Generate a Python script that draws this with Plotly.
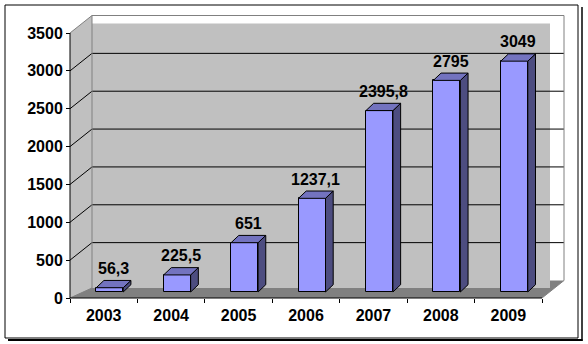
import plotly.graph_objects as go

# ---------------- data ----------------
years = ["2003", "2004", "2005", "2006", "2007", "2008", "2009"]
values = [56.3, 225.5, 651, 1237.1, 2395.8, 2795, 3049]
y_ticks = [0, 500, 1000, 1500, 2000, 2500, 3000, 3500]
labels = [f"{v:g}".replace(".", ",") for v in values]

# ---------------- geometry (pixels -> data units) ----------------
W, H = 588, 344
PXC = 472 / 7          # pixels per category on the front plane
PXV = 265 / 3500       # pixels per value unit on the front plane
X0_PX, Y0_PX = 70, 298 # front-plane origin in pixels
L, R, T, B = 60, 575, 8, 305  # plot-area box in pixels

xr = [(L - X0_PX) / PXC, (R - X0_PX) / PXC]
yr = [(Y0_PX - B) / PXV, (Y0_PX - T) / PXV]

NCAT = len(years)
VMAX = y_ticks[-1]

WDX, WDV = 22 / PXC, 17.5 / PXV        # wall depth offset
BAR_DX, BAR_DV = 6 / PXC, 6 / PXV      # bar front face depth position
BD_X, BD_V = 7.7 / PXC, 7.3 / PXV      # bar depth
BAR_W = 27 / PXC


def proj(x, v, d):
    return x + d * WDX, v + d * WDV


def path(pts):
    return "M " + " L ".join(f"{x},{y}" for x, y in pts) + " Z"


shapes = []

def poly(pts, fill, line_color=None, lw=0):
    shapes.append(dict(type="path", xref="x", yref="y", path=path(pts),
                       fillcolor=fill, line=dict(color=line_color or fill, width=lw),
                       layer="below"))

def seg(p, q, color, lw=1):
    shapes.append(dict(type="line", xref="x", yref="y", x0=p[0], y0=p[1], x1=q[0], y1=q[1],
                       line=dict(color=color, width=lw), layer="below"))

# floor
poly([proj(0, 0, 0), proj(NCAT, 0, 0), proj(NCAT, 0, 1), proj(0, 0, 1)], "#808080")
# back wall fill (slightly offset as in the original rendering)
bx0 = proj(0, 0, 1)[0]
bx1 = proj(NCAT, 0, 1)[0] - 14 / PXC
bvt = proj(0, VMAX, 1)[1] - 8 / PXV
bvb = proj(0, 0, 1)[1] - 7.5 / PXV
poly([(bx0, bvb), (bx1, bvb), (bx1, bvt), (bx0, bvt)], "#c0c0c0")
# left wall
poly([proj(0, 0, 0), proj(0, VMAX, 0), proj(0, VMAX, 1), (bx0, bvb)], "#c0c0c0")

# gridlines
for v in y_ticks[1:-1]:
    seg(proj(0, v, 0), proj(0, v, 1), "black")
    seg(proj(0, v, 1), proj(NCAT, v, 1), "black")

# wall outlines
gray = "#808080"
seg((bx0, bvb), proj(0, VMAX, 1), gray)
seg(proj(0, VMAX, 1), proj(NCAT, VMAX, 1), gray)
seg(proj(NCAT, VMAX, 1), proj(NCAT, 0, 1), gray)
seg(proj(0, VMAX, 0), proj(0, VMAX, 1), gray)
seg(proj(NCAT, 0, 0), proj(NCAT, 0, 1), gray)
seg(proj(0, 0, 0), (bx0, bvb), gray)

# axis lines
seg(proj(0, 0, 0), proj(0, VMAX, 0), "black")
seg(proj(0, 0, 0), proj(NCAT, 0, 0), "black")

# frame with shadow (paper coords)
def px_x(px):
    return (px - L) / (R - L)

def px_y(py):
    return (B - py) / (B - T)

shapes.append(dict(type="rect", xref="paper", yref="paper",
                   x0=px_x(5), x1=px_x(578), y0=px_y(338), y1=px_y(5),
                   line=dict(color="black", width=1), layer="above"))
shapes.append(dict(type="line", xref="paper", yref="paper",
                   x0=px_x(582), x1=px_x(582), y0=px_y(7), y1=px_y(341),
                   line=dict(color="black", width=1.5)))
shapes.append(dict(type="line", xref="paper", yref="paper",
                   x0=px_x(8), x1=px_x(582.5), y0=px_y(340), y1=px_y(340),
                   line=dict(color="black", width=2)))

# ---------------- bars ----------------
cx = [i + 0.5 + BAR_DX for i in range(NCAT)]
fig = go.Figure()
fig.add_trace(go.Bar(x=cx, y=values, base=BAR_DV, width=BAR_W,
                     marker=dict(color="#9999ff", line=dict(color="black", width=1)),
                     hoverinfo="skip", showlegend=False))

top_x, top_y, side_x, side_y = [], [], [], []
for c, v in zip(cx, values):
    x0, x1 = c - BAR_W / 2, c + BAR_W / 2
    b0, t0 = BAR_DV, BAR_DV + v
    top_x += [x0, x1, x1 + BD_X, x0 + BD_X, x0, None]
    top_y += [t0, t0, t0 + BD_V, t0 + BD_V, t0, None]
    side_x += [x1, x1 + BD_X, x1 + BD_X, x1, x1, None]
    side_y += [b0, b0 + BD_V, t0 + BD_V, t0, b0, None]

fig.add_trace(go.Scatter(x=side_x, y=side_y, mode="lines", fill="toself",
                         fillcolor="#4d4d80", line=dict(color="black", width=1),
                         hoverinfo="skip", showlegend=False))
fig.add_trace(go.Scatter(x=top_x, y=top_y, mode="lines", fill="toself",
                         fillcolor="#7373bf", line=dict(color="black", width=1),
                         hoverinfo="skip", showlegend=False))
# invisible trace for the tick-mark axis
fig.add_trace(go.Scatter(x=[0, NCAT], y=[0, 0], xaxis="x2", mode="markers",
                         marker=dict(opacity=0), hoverinfo="skip", showlegend=False))

font_b = dict(family="Liberation Sans, Arial, sans-serif", size=16, color="black", weight="bold")

annotations = []
for c, v, t in zip(cx, values, labels):
    annotations.append(dict(x=c + BD_X / 2, y=BAR_DV + v + BD_V, text=t, showarrow=False,
                            xanchor="center", yanchor="middle", yshift=12, font=font_b))

axis_pos_y = (B - Y0_PX) / (B - T)
axis_pos_x = (X0_PX - L) / (R - L)

fig.update_layout(
    width=W, height=H,
    margin=dict(l=L, r=W - R, t=T, b=H - B),
    paper_bgcolor="white", plot_bgcolor="white",
    bargap=0,
    shapes=shapes, annotations=annotations,
    xaxis=dict(range=xr, anchor="free", position=axis_pos_y,
               tickvals=[i + 0.5 for i in range(NCAT)], ticktext=years,
               ticks="", showgrid=False, zeroline=False, showline=False,
               ticklabelstandoff=6, tickfont=font_b),
    xaxis2=dict(range=xr, overlaying="x", anchor="free", position=axis_pos_y,
                tickvals=list(range(NCAT + 1)), ticks="outside", ticklen=4,
                tickcolor="black", tickwidth=1, showticklabels=False,
                showgrid=False, zeroline=False, showline=False),
    yaxis=dict(range=yr, anchor="free", position=axis_pos_x,
               tickvals=y_ticks, ticktext=[str(v) for v in y_ticks],
               ticks="outside", ticklen=4, tickcolor="black", tickwidth=1,
               showgrid=False, zeroline=False, showline=False,
               tickfont=font_b),
)

fig.write_html("out.html")
